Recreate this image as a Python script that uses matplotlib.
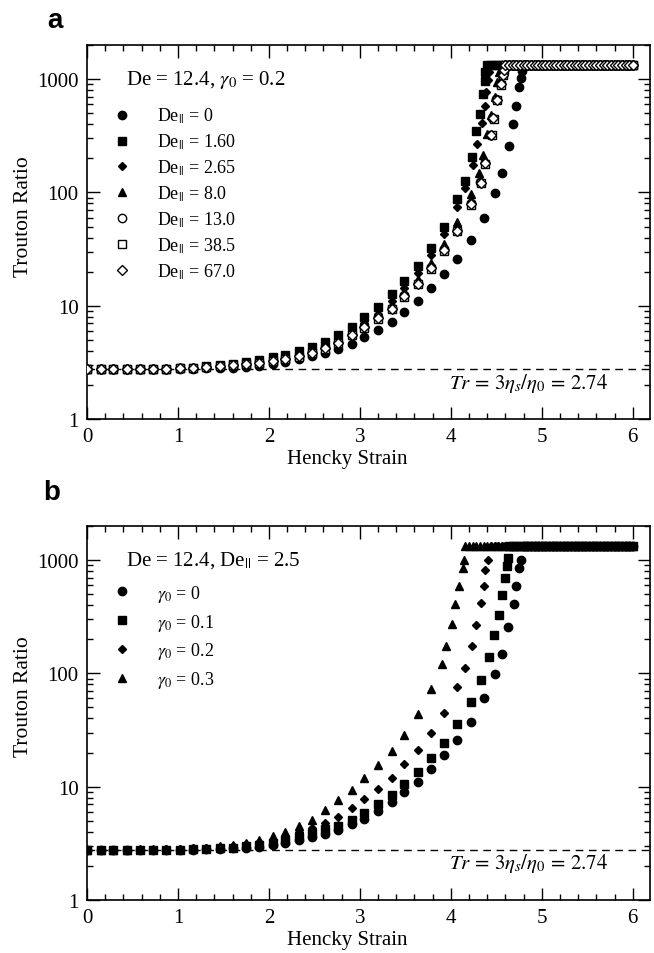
import matplotlib
matplotlib.use("Agg")
import matplotlib.pyplot as plt
from matplotlib.ticker import FixedLocator, NullFormatter, MultipleLocator

plt.rcParams["font.family"] = ["Liberation Serif", "DejaVu Serif"]
plt.rcParams["mathtext.fontset"] = "stix"

# sampling grid of the smooth part (Hencky strain)
grid = [0.00, 0.15, 0.29, 0.44, 0.58, 0.73, 0.87, 1.02, 1.16, 1.31, 1.46,
        1.60, 1.75, 1.89, 2.04, 2.18, 2.33, 2.47, 2.62, 2.76, 2.91, 3.05,
        3.20, 3.35, 3.49, 3.64, 3.78, 3.93, 4.07, 4.22, 4.36]

# dense sampling on the plateau
plateau_strain = [4.16, 4.20, 4.24, 4.28, 4.32, 4.36, 4.40, 4.44, 4.48, 4.52,
                  4.56, 4.60, 4.64, 4.68, 4.72, 4.76, 4.80, 4.84, 4.88, 4.92,
                  4.96, 5.00, 5.04, 5.08, 5.12, 5.16, 5.20, 5.24, 5.28, 5.32,
                  5.36, 5.40, 5.44, 5.48, 5.52, 5.56, 5.60, 5.64, 5.68, 5.72,
                  5.76, 5.80, 5.84, 5.88, 5.92, 5.96, 6.00]
tr_max = 1330.0
tr_newtonian = 2.74

# ---- panel a: De = 12.4, gamma0 = 0.2, varying De_par ----
a_labels = ["0", "1.60", "2.65", "8.0", "13.0", "38.5", "67.0"]

a_de0 = [2.74, 2.74, 2.74, 2.75, 2.75, 2.76, 2.76, 2.77, 2.78, 2.80, 2.81,
         2.84, 2.88, 2.95, 3.05, 3.20, 3.38, 3.57, 3.81, 4.12, 4.56, 5.25,
         6.10, 7.20, 8.80, 11.0, 14.2, 19.0, 25.8, 38.0, 60.0]
a_de0_tail_x = [4.49, 4.56, 4.64, 4.685, 4.72, 4.75, 4.77, 4.785]
a_de0_tail_y = [99, 149, 259, 405, 584, 853, 1024, 1180]

a_de160 = [2.74, 2.74, 2.75, 2.75, 2.76, 2.77, 2.79, 2.81, 2.84, 2.93, 3.00,
           3.08, 3.20, 3.33, 3.50, 3.70, 3.95, 4.30, 4.80, 5.50, 6.50, 8.00,
           9.80, 12.6, 16.5, 22.4, 32.5, 49.5, 88.0]
a_de160_tail_x = [4.15, 4.23, 4.28, 4.32, 4.355, 4.37, 4.38]
a_de160_tail_y = [126, 206, 347, 497, 741, 955, 1150]

a_de265 = [2.74, 2.74, 2.75, 2.75, 2.76, 2.77, 2.78, 2.80, 2.83, 2.90, 2.96,
           3.03, 3.13, 3.25, 3.40, 3.58, 3.80, 4.10, 4.55, 5.15, 6.10, 7.00,
           8.50, 10.9, 14.3, 19.5, 28.0, 43.0, 75.0]
a_de265_tail_x = [4.15, 4.24, 4.29, 4.34, 4.37, 4.39, 4.41, 4.42]
a_de265_tail_y = [110, 174, 270, 411, 584, 765, 991, 1150]

a_de80 = [2.74, 2.74, 2.75, 2.75, 2.76, 2.77, 2.78, 2.80, 2.83, 2.88, 2.94,
          3.00, 3.09, 3.20, 3.32, 3.45, 3.70, 3.98, 4.40, 4.95, 5.90, 7.00,
          8.50, 10.3, 13.3, 17.3, 24.0, 35.0, 55.0, 96.0]
a_de80_tail_x = [4.31, 4.35, 4.40, 4.44, 4.48, 4.51, 4.53]
a_de80_tail_y = [149, 216, 330, 480, 700, 950, 1150]

a_de130 = [2.74, 2.74, 2.75, 2.75, 2.76, 2.77, 2.78, 2.80, 2.82, 2.87, 2.93,
           2.99, 3.07, 3.17, 3.28, 3.40, 3.60, 3.87, 4.25, 4.75, 5.60, 6.55,
           7.90, 9.60, 12.4, 16.0, 22.0, 31.5, 47.0, 80.0]
a_de130_tail_x = [4.32, 4.37, 4.44, 4.455, 4.50, 4.54, 4.56, 4.57]
a_de130_tail_y = [123, 182, 324, 455, 670, 912, 1096, 1220]

a_de385 = [2.74, 2.74, 2.75, 2.75, 2.76, 2.77, 2.78, 2.80, 2.82, 2.86, 2.92,
           2.98, 3.05, 3.15, 3.25, 3.37, 3.56, 3.82, 4.18, 4.66, 5.48, 6.40,
           7.70, 9.35, 12.0, 15.5, 21.3, 30.5, 45.5, 77.0]
a_de385_tail_x = [4.33, 4.38, 4.45, 4.47, 4.51, 4.55, 4.57, 4.58]
a_de385_tail_y = [120, 178, 318, 446, 655, 895, 1080, 1210]

a_de670 = [2.74, 2.74, 2.75, 2.75, 2.76, 2.77, 2.78, 2.80, 2.82, 2.86, 2.92,
           2.98, 3.05, 3.15, 3.26, 3.38, 3.57, 3.84, 4.21, 4.70, 5.52, 6.45,
           7.80, 9.45, 12.2, 15.7, 21.6, 31.0, 46.0, 78.5]
a_de670_tail_x = [4.33, 4.38, 4.44, 4.46, 4.51, 4.55, 4.57, 4.58]
a_de670_tail_y = [121, 180, 320, 450, 660, 900, 1085, 1215]

# ---- panel b: De = 12.4, De_par = 2.5, varying gamma0 ----
b_labels = ["0", "0.1", "0.2", "0.3"]

b_g00 = [2.74, 2.74, 2.74, 2.75, 2.75, 2.76, 2.76, 2.77, 2.78, 2.80, 2.82,
         2.85, 2.89, 2.96, 3.05, 3.20, 3.38, 3.57, 3.82, 4.16, 4.67, 5.17,
         6.12, 7.25, 8.90, 11.0, 14.3, 19.0, 25.8, 37.5, 60.0]
b_g00_tail_x = [4.48, 4.56, 4.63, 4.69, 4.72, 4.75, 4.77]
b_g00_tail_y = [99, 149, 258, 405, 588, 853, 1010]

b_g01 = [2.74, 2.74, 2.75, 2.75, 2.76, 2.76, 2.77, 2.78, 2.80, 2.82, 2.85,
         2.90, 2.97, 3.08, 3.20, 3.35, 3.58, 3.87, 4.22, 4.50, 5.10, 5.90,
         7.00, 8.40, 10.5, 13.5, 17.8, 24.5, 35.5, 55.6]
b_g01_tail_x = [4.33, 4.42, 4.47, 4.53, 4.56, 4.59, 4.62, 4.63]
b_g01_tail_y = [87, 139, 216, 326, 490, 700, 893, 1050]

b_g02 = [2.74, 2.74, 2.75, 2.76, 2.77, 2.78, 2.80, 2.82, 2.85, 2.88, 2.93,
         3.00, 3.10, 3.22, 3.40, 3.65, 3.95, 4.30, 4.77, 5.45, 6.44, 7.77,
         9.60, 12.0, 15.8, 21.0, 29.9, 45.0, 75.0]
b_g02_tail_x = [4.15, 4.23, 4.28, 4.33, 4.36, 4.38, 4.41]
b_g02_tail_y = [112, 174, 268, 415, 594, 823, 1010]

b_g03 = [2.74, 2.75, 2.76, 2.77, 2.79, 2.80, 2.82, 2.84, 2.86, 2.90, 2.97,
         3.05, 3.18, 3.38, 3.65, 4.00, 4.45, 5.10, 6.20, 7.63, 9.35, 11.8,
         15.4, 20.6, 28.5, 43.6, 72.0]
b_g03_tail_x = [3.90, 3.95, 4.01, 4.05, 4.09, 4.13, 4.14]
b_g03_tail_y = [122, 174, 270, 405, 588, 853, 1010]


def series(vals, tail_x, tail_y):
    """Regular grid part + dense rise + plateau at tr_max."""
    xs = grid[:len(vals)] + tail_x
    ys = vals + tail_y
    plat = [p for p in plateau_strain if p > tail_x[-1] + 0.005]
    return xs + plat, ys + [tr_max] * len(plat)


def style_axes(ax):
    ax.set_yscale("log")
    ax.set_xlim(0, 6.19)
    ax.set_ylim(1, 2000)
    ax.xaxis.set_major_locator(MultipleLocator(1))
    ax.xaxis.set_minor_locator(MultipleLocator(0.2))
    ax.yaxis.set_major_locator(FixedLocator([1, 10, 100, 1000]))
    ax.yaxis.set_minor_locator(FixedLocator(
        [m * 10 ** e for e in range(4) for m in range(2, 10)]))
    ax.yaxis.set_minor_formatter(NullFormatter())
    ax.set_yticklabels(["1", "10", "100", "1000"])
    ax.set_xticks([0, 1, 2, 3, 4, 5, 6])
    ax.set_xticklabels(["0", "1", "2", "3", "4", "5", "6"])
    ax.tick_params(which="both", direction="in", top=True, right=True,
                   width=1.0, labelsize=15, pad=6)
    ax.tick_params(which="major", length=9)
    ax.tick_params(which="minor", length=4.5)
    for s in ax.spines.values():
        s.set_linewidth(1.2)
    ax.axhline(tr_newtonian, color="black", lw=1.0, ls=(0, (5.5, 4)), zorder=1)
    ax.text(5.73, 2.12, r"$Tr\, =\, 3\eta_s/\eta_0\, =\, 2.74$", ha="right",
            va="center", fontsize=15)
    ax.set_xlabel("Hencky Strain", fontsize=15)
    ax.set_ylabel("Trouton Ratio", fontsize=15.5)
    ax.xaxis.set_label_coords(0.462, -0.08)
    ax.yaxis.set_label_coords(-0.095, 0.545)


def add_legend(ax, handles, top, spacing):
    ax.legend(handles=handles, loc="upper left", bbox_to_anchor=(0.046, top),
              frameon=False, fontsize=13, handlelength=1.0, borderpad=0,
              handletextpad=1.45, labelspacing=spacing, borderaxespad=0)


fig = plt.figure(figsize=(6.54, 9.54), dpi=100)
ax_a = fig.add_axes([0.133, 0.5597, 0.861, 0.3921])
ax_b = fig.add_axes([0.133, 0.0556, 0.861, 0.3921])

# panel a
a_data = [(a_de0, a_de0_tail_x, a_de0_tail_y),
          (a_de160, a_de160_tail_x, a_de160_tail_y),
          (a_de265, a_de265_tail_x, a_de265_tail_y),
          (a_de80, a_de80_tail_x, a_de80_tail_y),
          (a_de130, a_de130_tail_x, a_de130_tail_y),
          (a_de385, a_de385_tail_x, a_de385_tail_y),
          (a_de670, a_de670_tail_x, a_de670_tail_y)]
a_styles = [("o", 6.0, "black"), ("s", 5.6, "black"), ("D", 4.0, "black"),
            ("^", 6.0, "black"), ("o", 6.0, "white"), ("s", 5.6, "white"),
            ("D", 5.0, "white")]
handles = []
for (vals, tx, ty), (mk, ms, fc), lab in zip(a_data, a_styles, a_labels):
    xs, ys = series(vals, tx, ty)
    h, = ax_a.plot(xs, ys, ls="none", marker=mk, ms=ms, mfc=fc, mec="black",
                   mew=1.0, label=r"De$_{||}$ = " + lab, zorder=3)
    handles.append(h)
style_axes(ax_a)
ax_a.text(0.069, 0.909, r"De = 12.4, $\gamma_0$ = 0.2", transform=ax_a.transAxes,
          ha="left", va="center", fontsize=15)
add_legend(ax_a, handles, 0.837, 0.36)

# panel b
b_data = [(b_g00, b_g00_tail_x, b_g00_tail_y),
          (b_g01, b_g01_tail_x, b_g01_tail_y),
          (b_g02, b_g02_tail_x, b_g02_tail_y),
          (b_g03, b_g03_tail_x, b_g03_tail_y)]
b_styles = [("o", 6.0), ("s", 5.6), ("D", 4.0), ("^", 6.0)]
handles = []
for (vals, tx, ty), (mk, ms), lab in zip(b_data, b_styles, b_labels):
    xs, ys = series(vals, tx, ty)
    h, = ax_b.plot(xs, ys, ls="none", marker=mk, ms=ms, mfc="black",
                   mec="black", mew=1.0, label=r"$\gamma_0$ = " + lab, zorder=3)
    handles.append(h)
style_axes(ax_b)
ax_b.text(0.069, 0.909, r"De = 12.4, De$_{||}$ = 2.5", transform=ax_b.transAxes,
          ha="left", va="center", fontsize=15)
add_legend(ax_b, handles, 0.848, 0.43)

fig.text(0.072, 0.978, "a", family="Liberation Sans", weight="bold",
         fontsize=20, ha="left", va="center")
fig.text(0.066, 0.483, "b", family="Liberation Sans", weight="bold",
         fontsize=20, ha="left", va="center")

fig.savefig("out.png", dpi=100)
